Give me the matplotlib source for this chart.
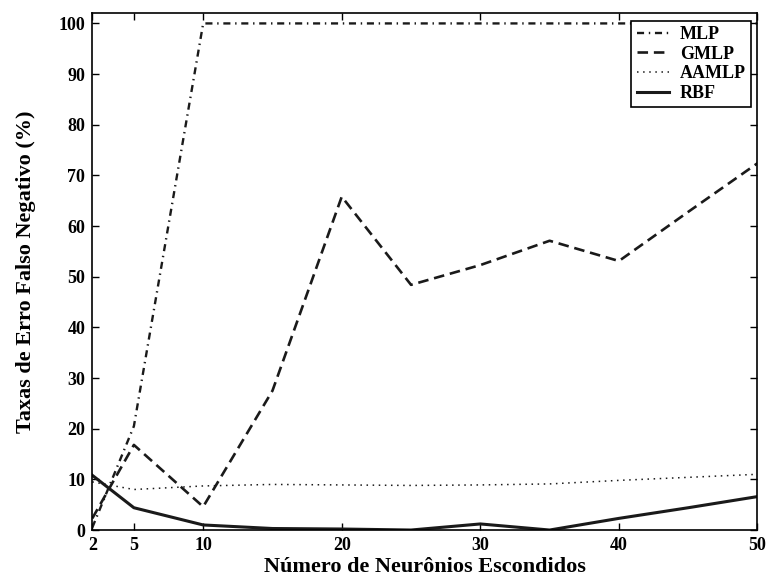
import matplotlib
matplotlib.use("Agg")
import matplotlib.pyplot as plt

# hidden neurons
neurons = [2, 5, 10, 15, 20, 25, 30, 35, 40, 45, 50]

# false negative error rates (%)
mlp = [0.5, 20.5, 100, 100, 100, 100, 100, 100, 100, 100, 100]
gmlp = [2.3, 16.8, 4.6, 27.5, 65.8, 48.4, 52.3, 57.1, 53.1, 62.8, 72.4]
aamlp = [9.5, 8.0, 8.7, 9.0, 8.9, 8.8, 8.9, 9.1, 9.8, 10.4, 11.0]
rbf = [10.8, 4.4, 1.0, 0.3, 0.2, 0.0, 1.2, 0.0, 2.3, 4.4, 6.6]

xticks = [2, 5, 10, 20, 30, 40, 50]
yticks = list(range(0, 101, 10))

plt.rcParams['font.family'] = ['Liberation Serif', 'DejaVu Serif']
plt.rcParams['font.weight'] = 'bold'

fig = plt.figure(figsize=(7.68, 5.78), dpi=100)
ax = fig.add_axes([0.1202, 0.083, 0.8661, 0.894])

ax.plot(neurons, mlp, color='#1a1a1a', lw=1.7, dashes=(3, 2, 0.6, 2), label='MLP')
ax.plot(neurons, gmlp, color='#1a1a1a', lw=1.9, dashes=(4, 2.2), label='GMLP')
ax.plot(neurons, aamlp, color='#1a1a1a', lw=1.1, dashes=(1, 3), label='AAMLP')
ax.plot(neurons, rbf, color='#1a1a1a', lw=2.2, label='RBF')

ax.set_xlim(2, 50)
ax.set_ylim(0, 102)
ax.set_xticks(xticks)
ax.set_yticks(yticks)
ax.tick_params(direction='in', top=True, right=True, length=5, width=1, labelsize=13, pad=5)
for lab in ax.get_xticklabels() + ax.get_yticklabels():
    lab.set_fontweight('bold')
for s in ax.spines.values():
    s.set_linewidth(1.2)

ax.set_xlabel('Número de Neurônios Escondidos', fontsize=16, fontweight='bold', labelpad=2)
ax.set_ylabel('Taxas de Erro Falso Negativo (%)', fontsize=16, fontweight='bold', labelpad=16)

leg = ax.legend(loc='upper right', bbox_to_anchor=(0.991, 0.986), borderaxespad=0,
                fancybox=False, framealpha=1, edgecolor='black',
                handlelength=1.8, labelspacing=0.15, borderpad=0.3, handletextpad=0.6,
                prop={'weight': 'bold', 'size': 13})
leg.get_frame().set_linewidth(1.2)

fig.savefig('out.png', dpi=100)
